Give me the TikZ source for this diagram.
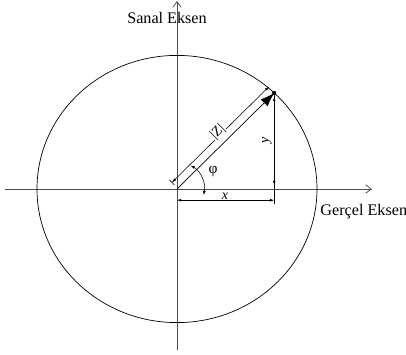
\documentclass[tikz,border=0pt]{standalone}
\usepackage{fontspec}
\setmainfont{Liberation Serif}
\usetikzlibrary{arrows.meta,calc}
\tikzset{
  axis/.style={black!70, line width=0.6pt},
  dimline/.style={line width=0.4pt, {Latex[length=3pt,width=2pt]}-{Latex[length=3pt,width=2pt]}},
  lbl/.style={font=\fontsize{10}{11}\selectfont, inner sep=1pt}
}
\begin{document}
\begin{tikzpicture}
\useasboundingbox (-4.425,-4.125) rectangle (5.725,4.725);
\coordinate (O) at (0,0);
\coordinate (P) at (2.43,2.4);
\coordinate (Px) at (2.43,0);

% axes
\coordinate (L) at (-4.3,0);
\coordinate (R) at (4.875,0);
\coordinate (D) at (0,-4.025);
\coordinate (U) at (0,4.7);
\draw[axis, -{Straight Barb[length=4pt,width=6pt]}] (L) -- (R);
\draw[axis, -{Straight Barb[length=4pt,width=6pt]}] (D) -- (U);
\node[font=\fontsize{11.5}{13}\selectfont] (sanal) at (-0.25,4.275) {Sanal Eksen};
\node[font=\fontsize{11.5}{13}\selectfont, anchor=west, inner sep=0pt] (gercel) at (3.58,-0.575) {Gerçel Eksen};

% circle through P
\draw[line width=0.5pt] (O) ellipse [x radius=3.5, y radius=3.34];

% vector |Z|
\draw[line width=0.5pt, -{Latex[length=10pt,width=7pt]}] (O) -- (P);
\fill (P) circle (1.5pt);
\coordinate (Z1) at ($(O)+(-0.13,0.16)$);
\coordinate (Z2) at ($(P)+(-0.13,0.16)$);
\draw[line width=0.4pt, {Bar[width=5pt]Latex[length=3pt,width=2pt]}-{Latex[length=3pt,width=2pt]}] (Z1) -- (Z2)
  node[lbl, midway, sloped, fill=white, inner sep=0.3pt, yshift=2.5pt] (zlbl) {|Z|};

% components
\draw[line width=0.5pt] (P) -- (Px);
\draw[dimline] ($(P)+(0,-0.1)$) -- ($(Px)+(0,0.1)$);
\node[lbl, rotate=90] (ylbl) at (2.25,1.22) {\textit{y}};
\coordinate (X1) at (0,-0.28);
\coordinate (X2) at (2.43,-0.28);
\draw[line width=0.4pt] (Px) -- ++(0,-0.38);
\draw[dimline] (X1) -- (X2);
\node[lbl] (xlbl) at (1.2,-0.19) {\textit{x}};

% angle
\draw[line width=0.4pt, {Latex[length=3pt,width=2pt]}-{Latex[length=3pt,width=2pt]}] (O) ++(60:0.68) arc[start angle=60, end angle=-13, radius=0.68];
\node[lbl, font=\fontsize{11}{12}\selectfont] (philbl) at (0.9,0.43) {φ};
\end{tikzpicture}
\end{document}
